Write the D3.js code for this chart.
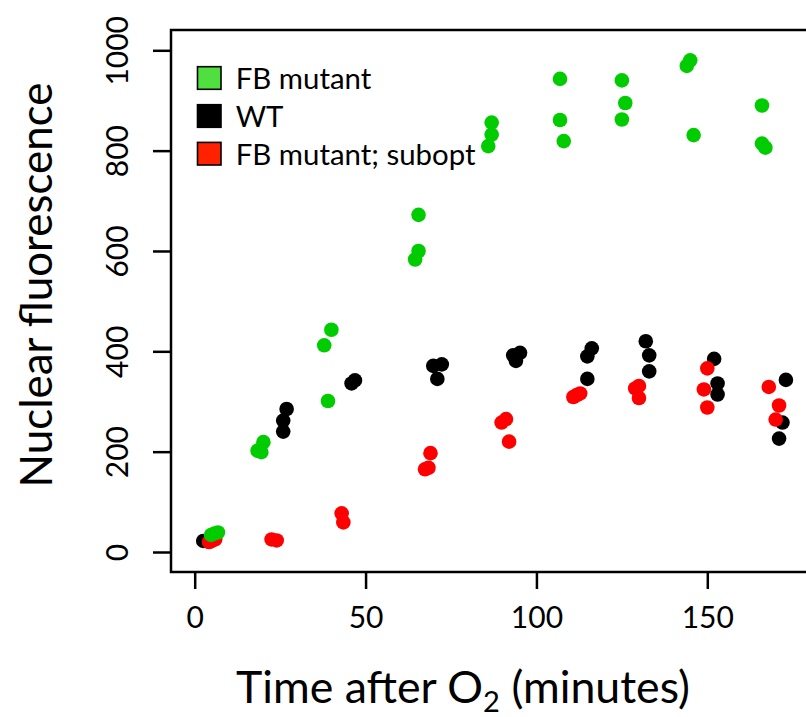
<!DOCTYPE html>
<html><head><meta charset="utf-8">
<script src="https://cdn.jsdelivr.net/npm/d3@7"></script>
<style>body{margin:0;background:#fff;} svg{display:block;}</style>
</head><body>
<svg id="chart" width="806" height="717"></svg>
<script>
// ---- data ----
const seriesNames = ["FB mutant", "WT", "FB mutant; subopt"];
const xTicks = [0, 50, 100, 150];
const yTicks = [0, 200, 400, 600, 800, 1000];

const fbTime = [4.8,5.8,6.8,18.4,19.5,20.1,37.9,39,40,64.5,65.5,65.5,85.9,86.9,86.9,106.9,106.9,108,125,126,125,144,145,146,166,166,167];
const fbValue = [34,37,39,202,199,219,412,301,443,583,600,672,809,832,856,943,861,819,940,895,862,969,980,831,890,814,806];

const wtTime = [2.5,3.5,4.2,25.9,25.9,26.9,45.9,46.9,69.8,71,72.3,93.2,94,95.2,114.9,114.9,116.2,132,133,133,152,153,153,171,172,173];
const wtValue = [22,22,21,240,262,285,336,342,371,345,374,392,381,397,345,390,406,420,392,360,385,336,314,226,258,343];

const subTime = [4.2,5,6,22.5,24,43,43.5,67.4,68.4,69,89.8,91.1,92,110.8,111.8,112.8,128.9,130,130,149,150,150,168,170,171];
const subValue = [20,22,25,25,23,77,59,165,168,197,258,265,220,309,313,316,326,331,307,324,366,288,329,264,292];

// ---- layout ----
const svg = d3.select("#chart");
const FONT = "Lato, 'Open Sans', sans-serif";
const x = d3.scaleLinear().domain([0, 150]).range([194.7, 707.3]);
const y = d3.scaleLinear().domain([0, 1000]).range([552, 50.3]);
const box = {left: 171, top: 30, bottom: 572, right: 830};

function fitSize(sel, target) {
  sel.attr("font-size", 100);
  const w = sel.node().getComputedTextLength();
  sel.attr("font-size", 100 * target / w);
  return 100 * target / w;
}

// points: WT, subopt, FB mutant (draw order)
const pointSets = [
  {t: wtTime, v: wtValue, color: "#000000"},
  {t: subTime, v: subValue, color: "#ff0000"},
  {t: fbTime, v: fbValue, color: "#00cc00"}
];
const gPts = svg.append("g");
pointSets.forEach(s => {
  gPts.append("g").selectAll("circle")
    .data(s.t.map((t, i) => [t, s.v[i]]))
    .join("circle")
    .attr("cx", d => x(d[0]))
    .attr("cy", d => y(d[1]))
    .attr("r", 7.3)
    .attr("fill", s.color);
});

// box
svg.append("rect")
  .attr("x", box.left).attr("y", box.top)
  .attr("width", box.right - box.left).attr("height", box.bottom - box.top)
  .attr("fill", "none").attr("stroke", "#000").attr("stroke-width", 2.5);

// y axis
const yAxis = svg.append("g").attr("transform", `translate(${box.left},0)`)
  .call(d3.axisLeft(y).tickValues(yTicks).tickSize(18).tickFormat(d3.format("d")));
yAxis.select(".domain").remove();
yAxis.selectAll(".tick line").attr("stroke", "#000").attr("stroke-width", 2.5);
yAxis.selectAll(".tick text")
  .attr("x", null).attr("dy", null)
  .attr("transform", "translate(-43,0) rotate(-90)")
  .attr("text-anchor", "middle")
  .attr("font-family", FONT).attr("font-size", 30).attr("fill", "#000");

// x axis
const xAxis = svg.append("g").attr("transform", `translate(0,${box.bottom})`)
  .call(d3.axisBottom(x).tickValues(xTicks).tickSize(17).tickFormat(d3.format("d")));
xAxis.select(".domain").remove();
xAxis.selectAll(".tick line").attr("stroke", "#000").attr("stroke-width", 2.5);
xAxis.selectAll(".tick text")
  .attr("y", 56).attr("dy", null)
  .attr("font-family", FONT).attr("font-size", 30).attr("fill", "#000");
svg.selectAll(".tick text").attr("font-family", FONT);

// axis titles
const xt = svg.append("text")
  .attr("x", 463).attr("y", 703)
  .attr("text-anchor", "middle").attr("font-family", FONT).attr("fill", "#000");
xt.append("tspan").text("Time after O");
xt.append("tspan").attr("font-size", "0.65em").attr("dy", 9).text("2");
xt.append("tspan").attr("dy", -9).text(" (minutes)");
fitSize(xt, 454);

const yt = svg.append("text")
  .attr("transform", "translate(52,285) rotate(-90)")
  .attr("text-anchor", "middle").attr("font-family", FONT).attr("fill", "#000")
  .text("Nuclear fluorescence");
fitSize(yt, 405);

// legend
const legendFill = ["#4fe040", "#000000", "#ff2200"];
const legendY = [78, 116, 153.7];
const leg = svg.append("g");
const legTexts = [];
seriesNames.forEach((name, i) => {
  leg.append("rect")
    .attr("x", 197.5).attr("y", legendY[i] - 11.3)
    .attr("width", 23.5).attr("height", 22.6)
    .attr("fill", legendFill[i]).attr("stroke", "#000").attr("stroke-width", 1.6);
  legTexts.push(leg.append("text")
    .attr("x", 235.7).attr("y", legendY[i] + 11)
    .attr("font-family", FONT).attr("fill", "#000").text(name));
});
const ls = fitSize(legTexts[2], 240);
legTexts.forEach(t => t.attr("font-size", ls));
</script>
</body></html>
